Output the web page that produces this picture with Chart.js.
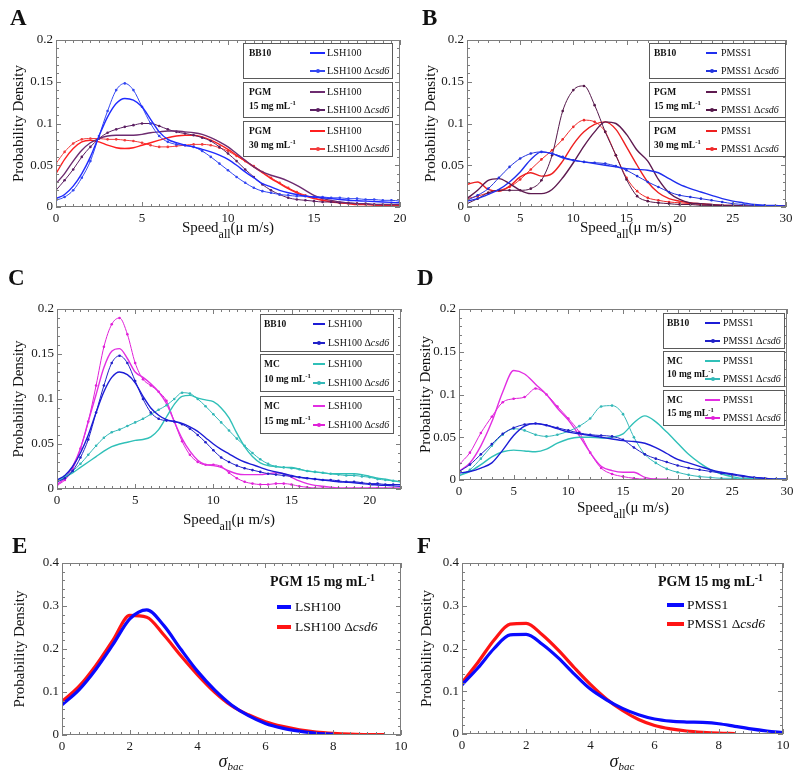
<!DOCTYPE html>
<html>
<head>
<meta charset="utf-8">
<script src="https://cdn.jsdelivr.net/npm/chart.js@4.4.1/dist/chart.umd.min.js"></script>
<style>
  body { margin: 0; background: #fff; }
  #fig { position: relative; width: 800px; height: 778px; font-family: "Liberation Serif", serif; color: #111; overflow: hidden; }
  canvas { position: absolute; }
  .lab { position: absolute; font-weight: bold; font-size: 23px; line-height: 23px; }
  .xt { position: absolute; font-size: 15px; line-height: 15px; white-space: nowrap; transform: translateX(-50%); }
  .xt .s { font-size: 12px; position: relative; top: 6px; }
  .sig { position: absolute; font-size: 18px; line-height: 18px; font-style: italic; white-space: nowrap; transform: translateX(-50%); }
  .sig .s { font-size: 11px; position: relative; top: 3px; }
  .box { position: absolute; border: 1px solid #5a5a5a; background: #fff; box-sizing: border-box; }
  .g { position: absolute; font-weight: bold; font-size: 9.5px; line-height: 10px; white-space: nowrap; }
  .it { position: absolute; white-space: nowrap; }
  .ln { position: absolute; }
  .dot { position: absolute; width: 4px; height: 4px; border-radius: 50%; }
  sup { font-size: 0.7em; line-height: 0; vertical-align: 0.55em; }
</style>
</head>
<body>
<div id="fig"></div>
<script>
const FONT = 'Liberation Serif';

// ---- A: LSH100, BB10 / PGM (speed, um/s) ----
const xA = [0,0.5,1,1.5,2,2.5,3,3.5,4,4.5,5,5.5,6,6.5,7,7.5,8,8.5,9,9.5,10,10.5,11,11.5,12,12.5,13,13.5,14,14.5,15,15.5,16,16.5,17,17.5,18,18.5,19,19.5,20];
const A_bb10  = [0.010,0.015,0.025,0.040,0.060,0.085,0.108,0.124,0.130,0.128,0.120,0.105,0.090,0.081,0.077,0.074,0.072,0.069,0.066,0.062,0.057,0.050,0.042,0.035,0.028,0.024,0.020,0.017,0.015,0.013,0.012,0.011,0.010,0.009,0.008,0.0075,0.007,0.0065,0.006,0.0055,0.005];
const A_bb10d = [0.008,0.012,0.020,0.035,0.055,0.085,0.115,0.140,0.148,0.140,0.120,0.100,0.085,0.078,0.075,0.074,0.072,0.067,0.060,0.052,0.044,0.036,0.029,0.023,0.019,0.017,0.015,0.014,0.013,0.013,0.012,0.012,0.011,0.011,0.010,0.010,0.009,0.009,0.008,0.008,0.007];
const A_p15   = [0.028,0.040,0.055,0.068,0.077,0.082,0.085,0.086,0.086,0.086,0.087,0.089,0.090,0.091,0.091,0.090,0.089,0.087,0.083,0.078,0.072,0.064,0.056,0.048,0.042,0.038,0.035,0.031,0.026,0.020,0.014,0.010,0.008,0.006,0.005,0.004,0.004,0.003,0.003,0.003,0.003];
const A_p15d  = [0.020,0.032,0.045,0.060,0.072,0.082,0.089,0.093,0.096,0.098,0.100,0.100,0.097,0.093,0.090,0.088,0.086,0.083,0.079,0.072,0.064,0.055,0.045,0.036,0.027,0.020,0.015,0.011,0.009,0.008,0.007,0.006,0.006,0.005,0.005,0.004,0.004,0.003,0.003,0.003,0.003];
const A_p30   = [0.040,0.057,0.070,0.078,0.080,0.078,0.074,0.071,0.070,0.071,0.074,0.077,0.080,0.083,0.085,0.086,0.086,0.084,0.080,0.075,0.069,0.062,0.055,0.048,0.041,0.034,0.028,0.022,0.017,0.013,0.010,0.008,0.006,0.005,0.004,0.003,0.003,0.002,0.002,0.002,0.002];
const A_p30d  = [0.052,0.066,0.076,0.081,0.082,0.082,0.081,0.081,0.080,0.079,0.077,0.074,0.072,0.072,0.073,0.074,0.075,0.075,0.074,0.071,0.067,0.061,0.055,0.049,0.042,0.035,0.029,0.023,0.018,0.014,0.011,0.008,0.007,0.005,0.004,0.004,0.003,0.003,0.002,0.002,0.002];

// ---- B: PMSS1, BB10 / PGM ----
const xB = [0,1,2,3,4,5,6,7,8,9,10,11,12,13,14,15,16,17,18,19,20,21,22,23,24,25,26,27,28,29,30];
const B_bb10  = [0.007,0.010,0.015,0.021,0.030,0.042,0.057,0.066,0.064,0.059,0.056,0.054,0.052,0.050,0.048,0.046,0.045,0.044,0.041,0.034,0.027,0.022,0.018,0.014,0.010,0.007,0.005,0.003,0.002,0.002,0.001];
const B_bb10d = [0.008,0.014,0.022,0.035,0.048,0.058,0.064,0.066,0.064,0.060,0.056,0.054,0.053,0.052,0.049,0.044,0.037,0.030,0.024,0.018,0.014,0.012,0.010,0.008,0.006,0.004,0.003,0.002,0.002,0.001,0.001];
const B_p15   = [0.010,0.020,0.032,0.034,0.028,0.020,0.016,0.016,0.021,0.035,0.053,0.073,0.090,0.102,0.100,0.087,0.068,0.055,0.033,0.017,0.009,0.005,0.004,0.003,0.002,0.002,0.001,0.001,0.001,0.001,0.001];
const B_p15d  = [0.004,0.010,0.017,0.020,0.020,0.020,0.022,0.032,0.062,0.115,0.140,0.145,0.122,0.090,0.062,0.033,0.013,0.007,0.005,0.004,0.003,0.003,0.002,0.002,0.002,0.001,0.001,0.001,0.001,0.001,0.001];
const B_p30   = [0.027,0.030,0.021,0.019,0.025,0.036,0.041,0.037,0.040,0.055,0.075,0.090,0.099,0.102,0.093,0.072,0.050,0.030,0.017,0.010,0.007,0.005,0.004,0.003,0.002,0.002,0.001,0.001,0.001,0.001,0.001];
const B_p30d  = [0.010,0.013,0.017,0.020,0.024,0.033,0.045,0.057,0.068,0.081,0.096,0.104,0.102,0.090,0.062,0.035,0.019,0.011,0.008,0.006,0.005,0.004,0.003,0.002,0.002,0.001,0.001,0.001,0.001,0.001,0.001];

// ---- C: LSH100, BB10 / MC ----
const xC = [0,0.5,1,1.5,2,2.5,3,3.5,4,4.5,5,5.5,6,6.5,7,7.5,8,8.5,9,9.5,10,10.5,11,11.5,12,12.5,13,13.5,14,14.5,15,15.5,16,16.5,17,17.5,18,18.5,19,19.5,20,20.5,21,21.5,22];
const C_bb10  = [0.010,0.015,0.025,0.040,0.060,0.085,0.108,0.124,0.130,0.127,0.118,0.103,0.090,0.082,0.077,0.075,0.073,0.069,0.064,0.057,0.050,0.044,0.039,0.034,0.030,0.027,0.024,0.021,0.019,0.017,0.015,0.013,0.012,0.011,0.010,0.009,0.008,0.0075,0.007,0.006,0.005,0.0045,0.004,0.0035,0.003];
const C_bb10d = [0.008,0.012,0.020,0.035,0.055,0.085,0.115,0.140,0.148,0.140,0.120,0.100,0.085,0.078,0.076,0.075,0.072,0.067,0.060,0.052,0.043,0.035,0.030,0.026,0.023,0.021,0.019,0.017,0.016,0.015,0.014,0.013,0.012,0.011,0.010,0.010,0.009,0.008,0.008,0.007,0.006,0.006,0.005,0.005,0.005];
const C_m10   = [0.008,0.013,0.018,0.024,0.030,0.036,0.042,0.047,0.050,0.052,0.054,0.055,0.058,0.066,0.080,0.094,0.103,0.104,0.101,0.099,0.097,0.090,0.079,0.062,0.047,0.036,0.029,0.026,0.025,0.024,0.024,0.022,0.020,0.019,0.018,0.017,0.017,0.017,0.017,0.016,0.014,0.012,0.011,0.009,0.008];
const C_m10d  = [0.010,0.014,0.020,0.028,0.038,0.048,0.057,0.063,0.066,0.070,0.074,0.078,0.083,0.088,0.093,0.100,0.107,0.106,0.100,0.092,0.083,0.074,0.065,0.056,0.048,0.040,0.033,0.028,0.025,0.024,0.023,0.022,0.020,0.019,0.018,0.017,0.016,0.015,0.015,0.014,0.013,0.011,0.010,0.009,0.008];
const C_m15   = [0.005,0.012,0.025,0.045,0.075,0.105,0.135,0.153,0.156,0.145,0.130,0.124,0.117,0.108,0.095,0.075,0.056,0.042,0.032,0.027,0.026,0.024,0.020,0.017,0.016,0.016,0.016,0.017,0.018,0.017,0.013,0.009,0.006,0.004,0.003,0.002,0.001,0.001,0.001,0.001,0.001,0.001,0.001,0.001,0.001];
const C_m15d  = [0.004,0.010,0.022,0.045,0.075,0.115,0.158,0.183,0.190,0.172,0.140,0.122,0.115,0.108,0.098,0.075,0.053,0.038,0.030,0.027,0.027,0.025,0.018,0.012,0.008,0.006,0.005,0.005,0.006,0.006,0.005,0.003,0.002,0.001,0.001,0.001,0.001,0.001,0.001,0.001,0.001,0.001,0.001,0.001,0.001];

// ---- D: PMSS1, BB10 / MC ----
const xD = [0,1,2,3,4,5,6,7,8,9,10,11,12,13,14,15,16,17,18,19,20,21,22,23,24,25,26,27,28,29,30];
const D_bb10  = [0.008,0.010,0.014,0.020,0.035,0.052,0.063,0.066,0.064,0.060,0.056,0.054,0.052,0.050,0.048,0.046,0.045,0.043,0.038,0.031,0.024,0.020,0.016,0.012,0.009,0.007,0.005,0.003,0.002,0.001,0.001];
const D_bb10d = [0.010,0.018,0.030,0.042,0.054,0.061,0.065,0.066,0.064,0.061,0.058,0.055,0.053,0.052,0.051,0.047,0.038,0.030,0.025,0.021,0.017,0.014,0.012,0.010,0.008,0.006,0.004,0.003,0.002,0.001,0.001];
const D_m10   = [0.005,0.010,0.018,0.027,0.033,0.035,0.034,0.033,0.036,0.043,0.048,0.050,0.050,0.049,0.050,0.054,0.067,0.075,0.068,0.056,0.043,0.030,0.020,0.012,0.007,0.004,0.002,0.002,0.001,0.001,0.001];
const D_m10d  = [0.005,0.012,0.025,0.040,0.053,0.060,0.058,0.053,0.051,0.053,0.057,0.063,0.072,0.086,0.087,0.077,0.050,0.030,0.020,0.013,0.009,0.006,0.004,0.003,0.002,0.002,0.001,0.001,0.001,0.001,0.001];
const D_m15   = [0.010,0.020,0.040,0.068,0.103,0.128,0.124,0.112,0.100,0.084,0.070,0.052,0.032,0.016,0.011,0.009,0.009,0.003,0.001,0.001,0,0,0,0,0,0,0,0,0,0,0];
const D_m15d  = [0.018,0.032,0.055,0.074,0.091,0.095,0.097,0.107,0.100,0.086,0.072,0.056,0.032,0.014,0.007,0.004,0.002,0.001,0.001,0,0,0,0,0,0,0,0,0,0,0,0];

// ---- E / F: sigma_bac, PGM 15 mg/mL ----
const xE = [0,0.5,1,1.5,2,2.5,3,3.5,4,4.5,5,5.5,6,6.5,7,7.5,8,8.5,9,9.5,10];
const E_lsh  = [0.070,0.105,0.153,0.210,0.270,0.291,0.255,0.200,0.148,0.105,0.070,0.045,0.027,0.016,0.009,0.004,0.002];
const E_lshd = [0.078,0.113,0.162,0.220,0.278,0.274,0.233,0.185,0.140,0.100,0.068,0.047,0.031,0.020,0.012,0.007,0.004,0.002,0.001,0.001];
const F_pm   = [0.115,0.155,0.200,0.232,0.233,0.210,0.178,0.140,0.105,0.080,0.060,0.045,0.035,0.030,0.028,0.027,0.024,0.018,0.012,0.007,0.003];
const F_pmd  = [0.120,0.168,0.220,0.257,0.259,0.232,0.196,0.155,0.116,0.082,0.055,0.034,0.020,0.012,0.007,0.004,0.002,0.001];

const YTITLE = 'Probability Density';

const S = (ys, color, dots, w) => ({ ys, color, dots, w: w || (dots ? 1 : 1.4) });

const panels = [
  { id: 'A', box: [0, 0, 420, 240], plot: [56, 40, 400, 207], padL: 11.5, xs: xA, xmax: 20, xstep: 5, xminor: 0.5, ymax: 0.2, ystep: 0.05, yminor: 0.01,
    series: [S(A_bb10, '#1f2bff'), S(A_bb10d, '#3347f2', 1), S(A_p15, '#6d2c70'), S(A_p15d, '#5b1f62', 1), S(A_p30, '#ff1f1f'), S(A_p30d, '#f23c3c', 1)] },
  { id: 'B', box: [410, 0, 390, 240], plot: [467, 40, 786, 207], padL: 13.5, xs: xB, xmax: 30, xstep: 5, xminor: 1, ymax: 0.2, ystep: 0.05, yminor: 0.01,
    series: [S(B_bb10, '#2030ee'), S(B_bb10d, '#2233dd', 1), S(B_p15, '#5e1a50'), S(B_p15d, '#55184a', 1), S(B_p30, '#ee2020'), S(B_p30d, '#ee2a2a', 1)] },
  { id: 'C', box: [0, 260, 420, 250], plot: [57, 309, 401, 489], padL: 11.5, xs: xC, xmax: 22, xstep: 5, xminor: 0.5, ymax: 0.2, ystep: 0.05, yminor: 0.01,
    series: [S(C_bb10, '#1c1cd6'), S(C_bb10d, '#2020c8', 1), S(C_m10, '#30c0b8'), S(C_m10d, '#33b8b8', 1), S(C_m15, '#e22ee2'), S(C_m15d, '#e020d8', 1)] },
  { id: 'D', box: [410, 260, 390, 240], plot: [459, 309, 787, 480], padL: 8.5, xs: xD, xmax: 30, xstep: 5, xminor: 1, ymax: 0.2, ystep: 0.05, yminor: 0.01,
    series: [S(D_bb10, '#1c1cd6'), S(D_bb10d, '#2020c8', 1), S(D_m10, '#30c0b8'), S(D_m10d, '#33b8b8', 1), S(D_m15, '#e22ee2'), S(D_m15d, '#e020d8', 1)] },
  { id: 'E', box: [0, 520, 420, 258], plot: [62, 563, 401, 735], padL: 12.5, xs: xE, xmax: 10, xstep: 2, xminor: 0.25, ymax: 0.4, ystep: 0.1, yminor: 0.02,
    series: [S(E_lsh, '#0a0aff', 0, 3.2), S(E_lshd, '#ff1414', 0, 3.2)] },
  { id: 'F', box: [410, 520, 390, 258], plot: [462, 563, 783, 734], padL: 9.5, xs: xE, xmax: 10, xstep: 2, xminor: 0.25, ymax: 0.4, ystep: 0.1, yminor: 0.02,
    series: [S(F_pm, '#0a0aff', 0, 3.2), S(F_pmd, '#ff1414', 0, 3.2)] }
];

// box frame with inward major/minor ticks on all four sides
const frame = {
  id: 'frame',
  afterDatasetsDraw(chart, args, o) {
    const { ctx, chartArea: a, scales: { x, y } } = chart;
    ctx.save();
    ctx.strokeStyle = '#7d7d7d';
    ctx.lineWidth = 1;
    ctx.strokeRect(a.left + 0.5, a.top + 0.5, a.width - 1, a.height - 1);
    ctx.beginPath();
    const nx = Math.round(o.xmax / o.xminor);
    for (let i = 0; i <= nx; i++) {
      const v = i * o.xminor, major = Math.abs(v / o.xstep - Math.round(v / o.xstep)) < 1e-6;
      const px = Math.round(x.getPixelForValue(v)) + 0.5, L = major ? 5 : 3;
      ctx.moveTo(px, a.bottom); ctx.lineTo(px, a.bottom - L);
      ctx.moveTo(px, a.top); ctx.lineTo(px, a.top + L);
    }
    const ny = Math.round(o.ymax / o.yminor);
    for (let i = 0; i <= ny; i++) {
      const v = i * o.yminor, major = Math.abs(v / o.ystep - Math.round(v / o.ystep)) < 1e-6;
      const py = Math.round(y.getPixelForValue(v)) + 0.5, L = major ? 5 : 3;
      ctx.moveTo(a.left, py); ctx.lineTo(a.left + L, py);
      ctx.moveTo(a.right, py); ctx.lineTo(a.right - L, py);
    }
    ctx.stroke();
    ctx.restore();
  }
};

const fig = document.getElementById('fig');
const fmt = v => String(Number(v.toFixed(3)));

function makeChart(p) {
  const [cl, ct, cw, ch] = p.box;
  const [pl, pt, pr, pb] = p.plot;
  const cv = document.createElement('canvas');
  cv.width = cw; cv.height = ch;
  cv.style.left = cl + 'px'; cv.style.top = ct + 'px';
  cv.style.width = cw + 'px'; cv.style.height = ch + 'px';
  fig.appendChild(cv);
  const tickFont = { family: FONT, size: 13 };
  new Chart(cv, {
    type: 'line',
    data: {
      datasets: p.series.map(s => ({
        data: s.ys.map((v, i) => ({ x: p.xs[i], y: v })),
        borderColor: s.color,
        backgroundColor: s.color,
        borderWidth: s.w,
        pointRadius: s.dots ? 1.3 : 0,
        pointBorderWidth: 0,
        pointBackgroundColor: s.color,
        cubicInterpolationMode: 'monotone',
        fill: false
      }))
    },
    options: {
      responsive: false,
      animation: false,
      devicePixelRatio: 1,
      layout: { padding: { left: p.padL, top: pt - ct, right: cl + cw - pr, bottom: 0 } },
      plugins: {
        legend: { display: false },
        tooltip: { enabled: false },
        frame: { xmax: p.xmax, xstep: p.xstep, xminor: p.xminor, ymax: p.ymax, ystep: p.ystep, yminor: p.yminor }
      },
      scales: {
        x: {
          type: 'linear', min: 0, max: p.xmax,
          grid: { display: false, drawTicks: false }, border: { display: false },
          ticks: { stepSize: p.xstep, includeBounds: false, autoSkip: false, maxRotation: 0, padding: 4, font: tickFont, color: '#1a1a1a', callback: fmt },
          afterFit: s => { s.height = ct + ch - pb; }
        },
        y: {
          min: 0, max: p.ymax,
          grid: { display: false, drawTicks: false }, border: { display: false },
          ticks: { stepSize: p.ystep, includeBounds: false, autoSkip: false, padding: 3, font: tickFont, color: '#1a1a1a', callback: fmt },
          title: { display: true, text: YTITLE, font: { family: FONT, size: 15, lineHeight: 1 }, padding: 0, color: '#111' },
          afterFit: s => { s.width = pl - cl - p.padL; }
        }
      }
    },
    plugins: [frame]
  });
}

panels.forEach(makeChart);

// ---- text overlays: panel letters, x titles, legends ----
function add(cls, html, style) {
  const d = document.createElement('div');
  d.className = cls;
  d.innerHTML = html;
  Object.assign(d.style, style);
  fig.appendChild(d);
  return d;
}

const letters = [['A', 10, 6], ['B', 422, 6], ['C', 8, 266], ['D', 417, 266], ['E', 12, 534], ['F', 417, 534]];
letters.forEach(([t, x, y]) => add('lab', t, { left: x + 'px', top: y + 'px' }));

const speedTitle = 'Speed<span class="s">all</span>(μ m/s)';
[[228, 220], [626, 220], [229, 512], [623, 500]].forEach(([x, y]) => add('xt', speedTitle, { left: x + 'px', top: y + 'px' }));
const sigmaTitle = 'σ<span class="s">bac</span>';
[[231, 752], [622, 752]].forEach(([x, y]) => add('sig', sigmaTitle, { left: x + 'px', top: y + 'px' }));

const mgml = n => n + ' mg mL<sup>-1</sup>';
const groupsPGM = [['BB10'], ['PGM', mgml(15)], ['PGM', mgml(30)]];
const groupsMC = [['BB10'], ['MC', mgml(10)], ['MC', mgml(15)]];
const namesL = ['LSH100', 'LSH100 Δ<i>csd6</i>'];
const namesP = ['PMSS1', 'PMSS1 Δ<i>csd6</i>'];

const boxLegends = [
  { p: 0, groups: groupsPGM, names: namesL, left: 243, width: 150, tops: [43, 82, 121], h: 36, gx: 6, lx: [67, 82], tx: 84, r1: 10, r2: 28, g2: 24, fs: 10.2 },
  { p: 1, groups: groupsPGM, names: namesP, left: 649, width: 137, tops: [43, 82, 121], h: 36, gx: 5, lx: [57, 68], tx: 72, r1: 10, r2: 28, g2: 24, fs: 10 },
  { p: 2, groups: groupsMC, names: namesL, left: 260, width: 134, tops: [314, 354, 396], h: 38, gx: 4, lx: [53, 65], tx: 68, r1: 10, r2: 29, g2: 25, fs: 10 },
  { p: 3, groups: groupsMC, names: namesP, left: 663, width: 122, tops: [313, 351, 390], h: 36, gx: 4, lx: [42, 57], tx: 60, r1: 10, r2: 28, g2: 23, fs: 10 }
];

boxLegends.forEach(L => {
  const ser = panels[L.p].series;
  L.tops.forEach((top, gi) => {
    add('box', '', { left: L.left + 'px', top: top + 'px', width: L.width + 'px', height: L.h + 'px' });
    L.groups[gi].forEach((t, k) => add('g', t, { left: (L.left + L.gx) + 'px', top: (top + (k ? L.g2 : L.r1) - 5) + 'px' }));
    [L.r1, L.r2].forEach((r, k) => {
      const s = ser[gi * 2 + k], cy = top + r;
      add('ln', '', { left: (L.left + L.lx[0]) + 'px', top: (cy - 0.75) + 'px', width: (L.lx[1] - L.lx[0]) + 'px', height: '1.5px', background: s.color });
      if (s.dots) add('dot', '', { left: ((L.left + (L.lx[0] + L.lx[1]) / 2) - 2) + 'px', top: (cy - 2) + 'px', background: s.color });
      add('it', L.names[k], { left: (L.left + L.tx) + 'px', top: (cy - L.fs / 2) + 'px', fontSize: L.fs + 'px', lineHeight: L.fs + 'px' });
    });
  });
});

const plainLegends = [
  { p: 4, names: namesL, tx0: 270, ty: 582, lx: [277, 291], txt: 295, rows: [607, 627] },
  { p: 5, names: namesP, tx0: 658, ty: 582, lx: [667, 684], txt: 687, rows: [605, 624] }
];
plainLegends.forEach(L => {
  add('it', '<b>PGM ' + mgml(15) + '</b>', { left: L.tx0 + 'px', top: (L.ty - 7) + 'px', fontSize: '14px', lineHeight: '14px' });
  L.rows.forEach((cy, k) => {
    const s = panels[L.p].series[k];
    add('ln', '', { left: L.lx[0] + 'px', top: (cy - 2) + 'px', width: (L.lx[1] - L.lx[0]) + 'px', height: '4px', background: s.color });
    add('it', L.names[k], { left: L.txt + 'px', top: (cy - 7) + 'px', fontSize: '13.5px', lineHeight: '14px' });
  });
});
</script>
</body>
</html>
